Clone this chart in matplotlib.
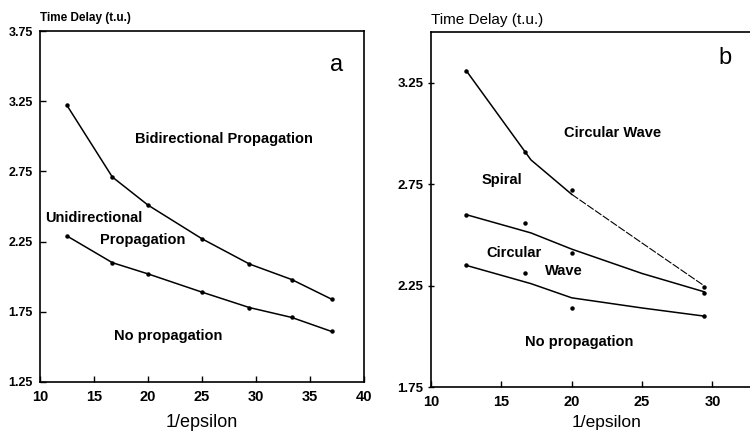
import matplotlib
matplotlib.use("Agg")
from matplotlib import pyplot as plt

plt.rcParams["font.family"] = ["Liberation Sans", "DejaVu Sans"]

# panel a: 1/epsilon vs time delay
a_x = [12.5, 16.7, 20, 25, 29.4, 33.3, 37.0]
a_upper = [3.22, 2.71, 2.51, 2.27, 2.09, 1.98, 1.84]
a_lower = [2.29, 2.10, 2.02, 1.89, 1.78, 1.71, 1.61]

# panel b: measured points
b_x = [12.5, 16.7, 20, 29.4]
b_upper = [3.31, 2.91, 2.72, 2.245]
b_middle = [2.60, 2.56, 2.41, 2.215]
b_lower = [2.35, 2.31, 2.14, 2.10]

# panel b: hand-drawn boundary lines
b_line_x = [12.5, 17.1, 20, 25, 29.4]
b_line_upper = [3.31, 2.87, 2.70, 2.46, 2.25]
b_line_middle = [2.60, 2.51, 2.43, 2.31, 2.22]
b_line_lower = [2.35, 2.26, 2.19, 2.14, 2.10]

a_yticks = [1.25, 1.75, 2.25, 2.75, 3.25, 3.75]
a_xticks = [10, 15, 20, 25, 30, 35, 40]
b_yticks = [1.75, 2.25, 2.75, 3.25]
b_xticks = [10, 15, 20, 25, 30]

fig = plt.figure(figsize=(7.5, 4.33), dpi=100)
ax1 = fig.add_axes([0.0533, 0.1178, 0.432, 0.8106])
ax2 = fig.add_axes([0.5747, 0.106, 0.469, 0.820])

line_kw = dict(color="black", lw=1.1)
dot_kw = dict(color="black", ls="none", marker="o", ms=2.2)

# --- panel a
ax1.plot(a_x, a_upper, **line_kw)
ax1.plot(a_x, a_lower, **line_kw)
ax1.plot(a_x, a_upper, **dot_kw)
ax1.plot(a_x, a_lower, **dot_kw)
ax1.set(xlim=(10, 40), ylim=(1.25, 3.75))
ax1.set_xticks(a_xticks)
ax1.set_yticks(a_yticks)
ax1.set_yticklabels([f"{v:.2f}" for v in a_yticks])
ax1.tick_params(axis="x", direction="in", length=4, width=1, pad=6,
                labelsize=10.5)
ax1.tick_params(axis="y", direction="in", length=4, width=1, pad=5,
                labelsize=9)
for lab in ax1.get_xticklabels() + ax1.get_yticklabels():
    lab.set_fontweight("bold")
ax1.set_xlabel("1/epsilon", fontsize=13, labelpad=7)
ax1.text(0.0, 1.02, "Time Delay (t.u.)", transform=ax1.transAxes,
         ha="left", va="bottom", fontsize=8.5, fontweight="bold")
ax1.text(37.5, 3.51, "a", fontsize=17, ha="center", va="center")
txt = dict(fontsize=10.5, fontweight="bold", va="center")
ax1.text(27.0, 2.98, "Bidirectional Propagation", ha="center", **txt)
ax1.text(10.45, 2.42, "Unidirectional", ha="left", **txt)
ax1.text(15.55, 2.26, "Propagation", ha="left", **txt)
ax1.text(16.9, 1.58, "No propagation", ha="left", **txt)

# --- panel b
ax2.plot(b_line_x[:3], b_line_upper[:3], **line_kw)
ax2.plot(b_line_x[2:], b_line_upper[2:], color="black", lw=0.8,
         ls=(0, (7, 1.5)))
ax2.plot(b_line_x, b_line_middle, **line_kw)
ax2.plot(b_line_x, b_line_lower, **line_kw)
for ys in (b_upper, b_middle, b_lower):
    ax2.plot(b_x, ys, **dot_kw)
ax2.set(xlim=(10, 35), ylim=(1.75, 3.5))
ax2.set_xticks(b_xticks)
ax2.set_yticks(b_yticks)
ax2.tick_params(axis="x", direction="in", length=4, width=1, pad=6,
                labelsize=10.5)
ax2.tick_params(axis="y", direction="inout", length=5, width=1, pad=3,
                labelsize=9.5)
for lab in ax2.get_xticklabels() + ax2.get_yticklabels():
    lab.set_fontweight("bold")
ax2.set_xlabel("1/epsilon", fontsize=12.5, labelpad=4)
ax2.text(0.0, 1.014, "Time Delay (t.u.)", transform=ax2.transAxes,
         ha="left", va="bottom", fontsize=11)
ax2.text(30.9, 3.37, "b", fontsize=17, ha="center", va="center")
ax2.text(19.43, 3.0, "Circular Wave", ha="left", **txt)
ax2.text(13.57, 2.77, "Spiral", ha="left", **txt)
ax2.text(13.9, 2.41, "Circular", ha="left", **txt)
ax2.text(18.1, 2.32, "Wave", ha="left", **txt)
ax2.text(16.7, 1.97, "No propagation", ha="left", **txt)

for ax in (ax1, ax2):
    for sp in ax.spines.values():
        sp.set_linewidth(1.2)

fig.savefig("out.png", dpi=100)
